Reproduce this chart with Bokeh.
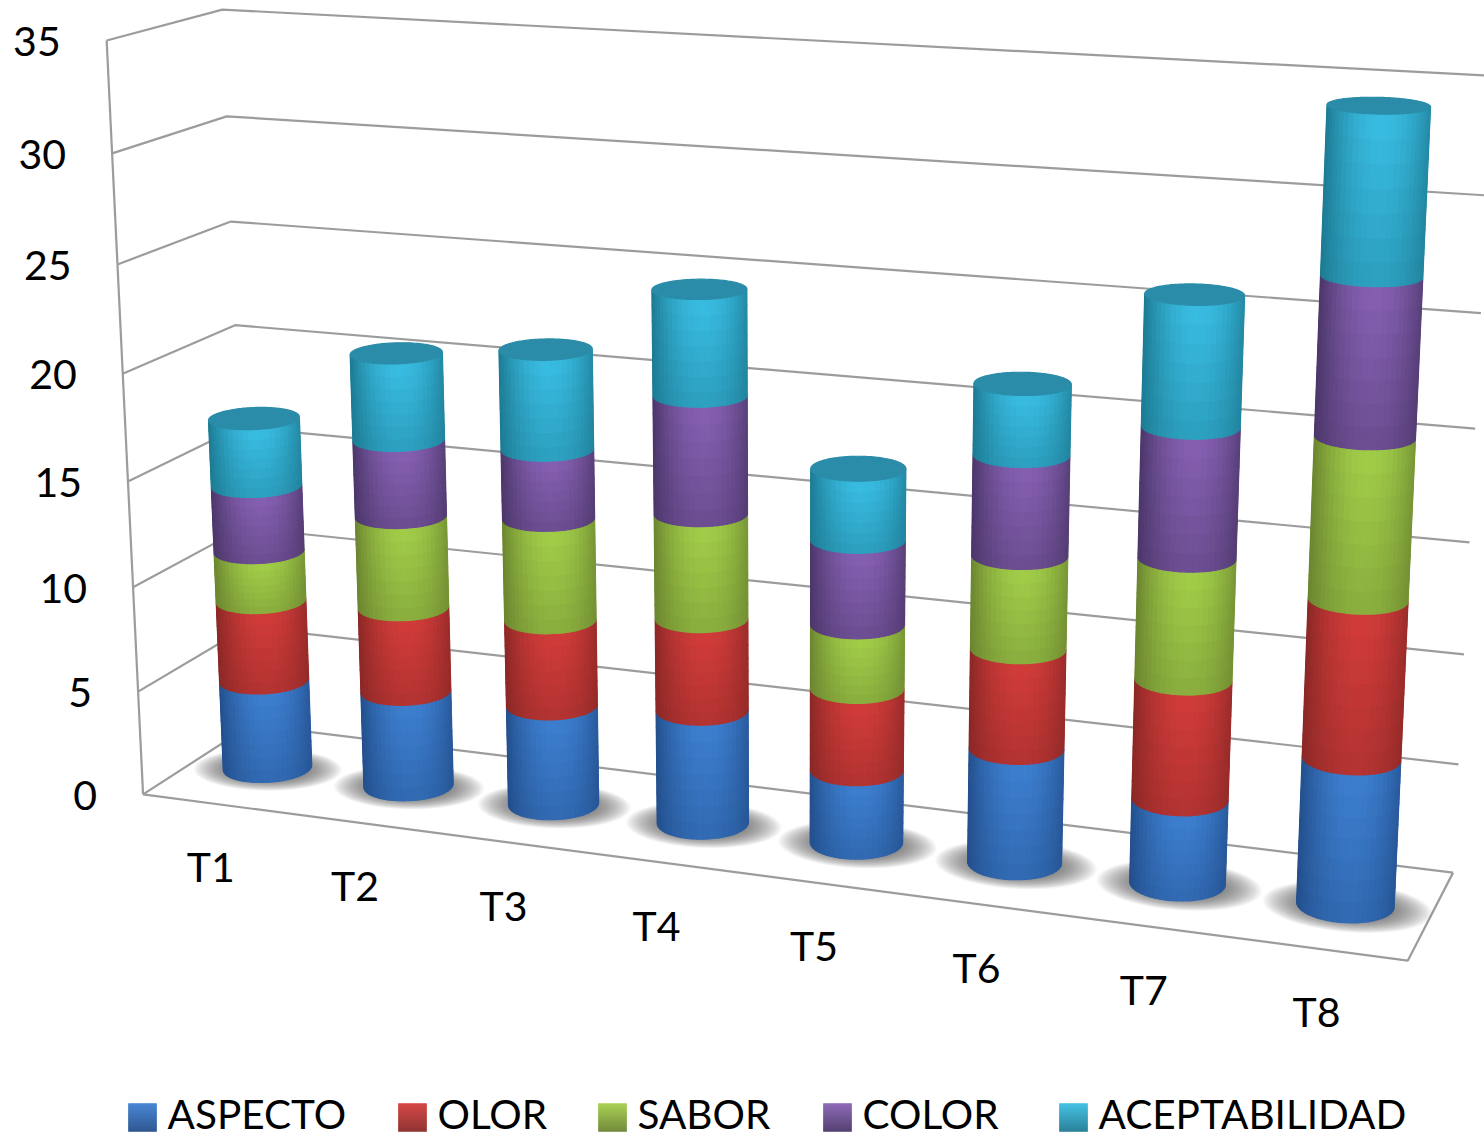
import numpy as np
from bokeh.core.properties import value
from bokeh.embed import file_html
from bokeh.models import ColumnDataSource, Range1d
from bokeh.plotting import figure
from bokeh.resources import INLINE

categories = ["T1", "T2", "T3", "T4", "T5", "T6", "T7", "T8"]
aspecto = [4.35, 4.63, 4.78, 5.38, 3.43, 5.3, 3.87, 6.6]
olor = [3.9, 4.05, 4.06, 4.3, 3.8, 4.55, 5.4, 7.0]
sabor = [2.4, 4.35, 4.77, 4.85, 2.95, 4.2, 5.4, 7.0]
color = [3.15, 3.6, 3.22, 5.38, 3.86, 4.48, 5.73, 6.77]
aceptabilidad = [3.2, 4.03, 4.58, 4.77, 3.22, 3.12, 5.66, 7.0]

series_names = ["ASPECTO", "OLOR", "SABOR", "COLOR", "ACEPTABILIDAD"]
series_values = [aspecto, olor, sabor, color, aceptabilidad]
series_bright = ["#3d7fd0", "#d23c3a", "#a2ce49", "#8660b2", "#39bde3"]
series_dark = ["#234f8c", "#8a2826", "#6b8530", "#4b3669", "#1d7a92"]
lid_color = "#2a8ca8"
y_ticks = [0, 5, 10, 15, 20, 25, 30, 35]
y_max = 35
GRID = "#9c9c9c"
FONT = "Lato"

W, H = 1484, 1137


def hex_rgb(h):
    return np.array([int(h[i:i + 2], 16) for i in (1, 3, 5)], float)


def rgb_hex(c):
    return "#%02x%02x%02x" % tuple(int(round(min(255, max(0, x)))) for x in c)


# Camera: a 3x4 projection from (along categories, depth, value) to the page.
anchors = [
    (0, 0, 0, 143, 793), (0, 0, 20, 123, 373), (0, 0, 35, 106, 40),
    (0, 1, 0, 252, 722), (0, 1, 20, 234, 325), (0, 1, 35, 222, 9),
    (1, 0, 0, 1407, 960), (1, 1, 0, 1452, 872), (1, 1, 5, 1458, 765),
    (1, 1, 20, 1475, 428), (1, 1, 30, 1486, 195),
    (1 / 16, .5, 0, 265, 770), (7 / 16, .5, 0, 702, 822),
    (9 / 16, .5, 0, 856, 843), (15 / 16, .5, 0, 1346, 902),
]
rows, rhs = [], []
for a, b, c, x, y in anchors:
    c = c / y_max
    rows.append([a, b, c, 1, 0, 0, 0, 0, -x * a, -x * b, -x * c])
    rhs.append(x)
    rows.append([0, 0, 0, 0, a, b, c, 1, -y * a, -y * b, -y * c])
    rhs.append(y)
m = np.linalg.lstsq(np.array(rows, float), np.array(rhs, float), rcond=None)[0]


def project(u, d, v):
    u, d, v = np.asarray(u, float), np.asarray(d, float), np.asarray(v, float) / y_max
    w = m[8] * u + m[9] * d + m[10] * v + 1
    return (m[0] * u + m[1] * d + m[2] * v + m[3]) / w, (m[4] * u + m[5] * d + m[6] * v + m[7]) / w


p = figure(width=W, height=H, x_range=Range1d(0, W), y_range=Range1d(H, 0),
           output_backend="svg", toolbar_location=None, min_border=0,
           outline_line_color=None, background_fill_color="white")
p.axis.visible = False
p.grid.visible = False

# Walls and floor
for v in y_ticks:
    xs, ys = project([0, 0, 1], [0, 1, 1], [v, v, v])
    p.line(xs.tolist(), ys.tolist(), line_color=GRID, line_width=2.2)
xs, ys = project([0, 0], [0, 0], [0, y_max])
p.line(xs.tolist(), ys.tolist(), line_color=GRID, line_width=2.2)
xs, ys = project([0, 1, 1], [0, 0, 1], [0, 0, 0])
p.line(xs.tolist(), ys.tolist(), line_color=GRID, line_width=2.2)

RU, RD = 0.035, 0.2
n_cat = len(categories)
t_dense = np.linspace(0, 2 * np.pi, 721)


def ring(uc, v, t, ku=1.0, kd=1.0, du=0.0, dd=0.0):
    return project(uc + du + ku * RU * np.cos(t), .5 + dd + kd * RD * np.sin(t), np.full_like(t, v))


def silhouette(uc, v):
    x, _ = ring(uc, v, t_dense)
    back = (t_dense >= np.pi / 2) & (t_dense <= 3 * np.pi / 2)
    tl = t_dense[back][np.argmin(x[back])]
    fr = ~back
    tt = np.where(t_dense < np.pi / 2, t_dense + 2 * np.pi, t_dense)
    tr = tt[fr][np.argmax(x[fr])]
    return tl, tr


# Soft floor shadows, built from stacked translucent discs
sh_x, sh_y = [], []
for i in range(n_cat):
    uc = (i + .5) / n_cat
    for q in np.linspace(1, 0, 30):
        k = 0.9 + 0.85 * q
        x, y = ring(uc, 0, t_dense[::8], ku=k, kd=0.7 + 0.68 * q, du=.002, dd=-.02)
        sh_x.append(x.tolist())
        sh_y.append(y.tolist())
p.patches(sh_x, sh_y, fill_color="#4a4a4a", fill_alpha=0.036, line_color=None)

# Cylinders, shaded with small facets across and along each stacked segment
N_ACROSS, N_ALONG = 26, 7
qx, qy, qc = [], [], []
for i in range(n_cat):
    uc = (i + .5) / n_cat
    base = 0.0
    for sv, bright, dark in zip(series_values, series_bright, series_dark):
        cb, cd = hex_rgb(bright), hex_rgb(dark)
        top = base + sv[i]
        levels = np.linspace(base, top, N_ALONG + 1)
        sil = [silhouette(uc, v) for v in levels]
        sa = np.linspace(0, 1, N_ACROSS + 1)
        for j in range(N_ALONG):
            fall = (j + .5) / N_ALONG  # 0 at the segment's foot
            tl0, tr0 = sil[j]
            tl1, tr1 = sil[j + 1]
            t0 = tl0 + sa * (tr0 - tl0)
            t1 = tl1 + sa * (tr1 - tl1)
            x0, y0 = ring(uc, levels[j], t0)
            x1, y1 = ring(uc, levels[j + 1], t1)
            for s in range(N_ACROSS):
                lat = -np.cos(np.pi * (s + .5) / N_ACROSS)
                g = 1 - min(1, abs(lat - .08) / 1.08) ** 2.0
                g *= 0.55 + 0.45 * fall
                qx.append([x0[s], x0[s + 1], x1[s + 1], x1[s]])
                qy.append([y0[s], y0[s + 1], y1[s + 1], y1[s]])
                qc.append(rgb_hex(cd + (cb - cd) * g))
        base = top
    lx, ly = ring(uc, base, t_dense[::4])
    qx.append(lx.tolist())
    qy.append(ly.tolist())
    qc.append(lid_color)
p.patches(xs="x", ys="y", fill_color="c", line_color="c", line_width=1.2,
          source=ColumnDataSource(dict(x=qx, y=qy, c=qc)))

# Value labels alongside the left wall
tx, ty = project(np.zeros(len(y_ticks)), np.zeros(len(y_ticks)), y_ticks)
p.text(tx - 46, ty + 1, text=[str(v) for v in y_ticks], text_font=value(FONT),
       text_font_size="41px", text_color="black", text_align="right", text_baseline="middle")

# Category labels under the front edge
uc = (np.arange(n_cat) + .5) / n_cat
cx, cy = project(uc, np.zeros(n_cat), np.zeros(n_cat))
p.text(cx - 3, cy + 63, text=categories, text_font=value(FONT), text_font_size="41px",
       text_color="black", text_align="center", text_baseline="middle")

# Legend
legend_x = [128, 398, 598, 823, 1059]
key_size = 28
lx, ly, lc = [], [], []
for x0, bright, dark in zip(legend_x, series_bright, series_dark):
    cb, cd = hex_rgb(bright), hex_rgb(dark)
    for k in range(key_size):
        lx.append([x0, x0 + key_size, x0 + key_size, x0])
        lc.append(rgb_hex(cb + (cd - cb) * k / (key_size - 1)))
        ly.append([1103 + k, 1103 + k, 1104 + k, 1104 + k])
p.patches(xs="x", ys="y", fill_color="c", line_color="c", line_width=0.5,
          source=ColumnDataSource(dict(x=lx, y=ly, c=lc)))
p.text([x0 + key_size + 11 for x0 in legend_x], [1113] * 5, text=series_names,
       text_font=value(FONT), text_font_size="40.5px", text_color="black",
       text_align="left", text_baseline="middle")

open("out.html", "w").write(file_html(p, INLINE))
